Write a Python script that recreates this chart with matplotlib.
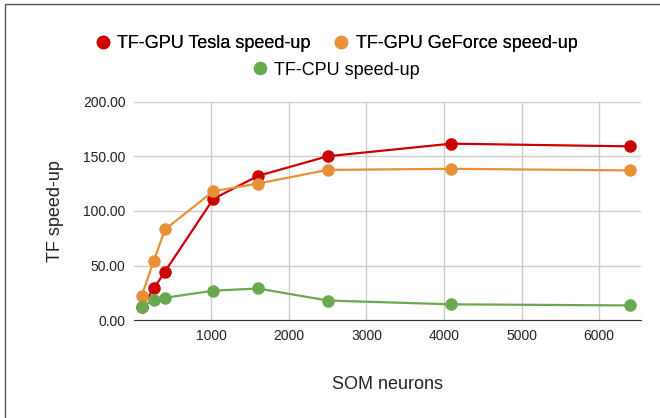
import matplotlib
matplotlib.use('Agg')
import matplotlib.pyplot as plt
from matplotlib.patches import Rectangle

plt.rcParams['font.family'] = ['Liberation Sans', 'DejaVu Sans']

# SOM sizes (neurons) and measured speed-ups
neurons = [100, 256, 400, 1024, 1600, 2500, 4096, 6400]
tesla = [12.0, 29.0, 44.5, 111.0, 132.0, 150.0, 161.5, 159.0]
geforce = [22.5, 54.5, 83.0, 118.0, 125.0, 137.5, 138.5, 137.0]
cpu = [12.0, 18.5, 20.5, 27.0, 29.0, 18.0, 14.5, 13.5]

series = [
    ('TF-GPU Tesla speed-up', tesla, '#cc0000'),
    ('TF-GPU GeForce speed-up', geforce, '#e69138'),
    ('TF-CPU speed-up', cpu, '#6aa84f'),
]
xticks = [1000, 2000, 3000, 4000, 5000, 6000]
yticks = [0, 50, 100, 150, 200]

fig = plt.figure(figsize=(6.6, 4.18), dpi=100)
ax = fig.add_axes([0.203, 0.234, 0.768, 0.523])

lines = []
for name, vals, col in series:
    ln, = ax.plot(neurons, vals, color=col, lw=1.6, marker='o', ms=8,
                  label=name, zorder=3)
    lines.append(ln)

ax.set_xlim(0, 6540)
ax.set_ylim(0, 200)
ax.set_xticks(xticks)
ax.set_yticks(yticks)
ax.set_yticklabels(['{:.2f}'.format(v) for v in yticks])
ax.grid(True, color='#cccccc', lw=1)
ax.set_axisbelow(True)
for s in ['top', 'right', 'left']:
    ax.spines[s].set_visible(False)
ax.spines['bottom'].set_color('#333333')
ax.spines['bottom'].set_zorder(4)
ax.tick_params(length=0, labelsize=10, colors='#222222', pad=6)

ax.set_xlabel('SOM neurons', fontsize=13, color='#222222', labelpad=24)
ax.set_ylabel('TF speed-up', fontsize=13, color='#222222', labelpad=14)

# legend: two rows, centred
leg1 = fig.legend(handles=lines[:2], loc='center', bbox_to_anchor=(0.511, 0.895),
                  ncol=2, frameon=False, fontsize=13, handlelength=0.6,
                  handletextpad=0.5, columnspacing=1.4, markerscale=1.1)
for h in leg1.legend_handles:
    h.set_linestyle('none')
leg2 = fig.legend(handles=lines[2:], loc='center', bbox_to_anchor=(0.511, 0.832),
                  frameon=False, fontsize=13, handlelength=0.6,
                  handletextpad=0.5, markerscale=1.1)
for h in leg2.legend_handles:
    h.set_linestyle('none')
fig.add_artist(leg1)

# chart border (cropped at right/bottom)
fig.add_artist(Rectangle((5 / 660, -0.1), 1.2, 1.1 - 4 / 418,
                         transform=fig.transFigure, fill=False,
                         edgecolor='#555555', lw=1))

plt.savefig('out.png', dpi=100)
